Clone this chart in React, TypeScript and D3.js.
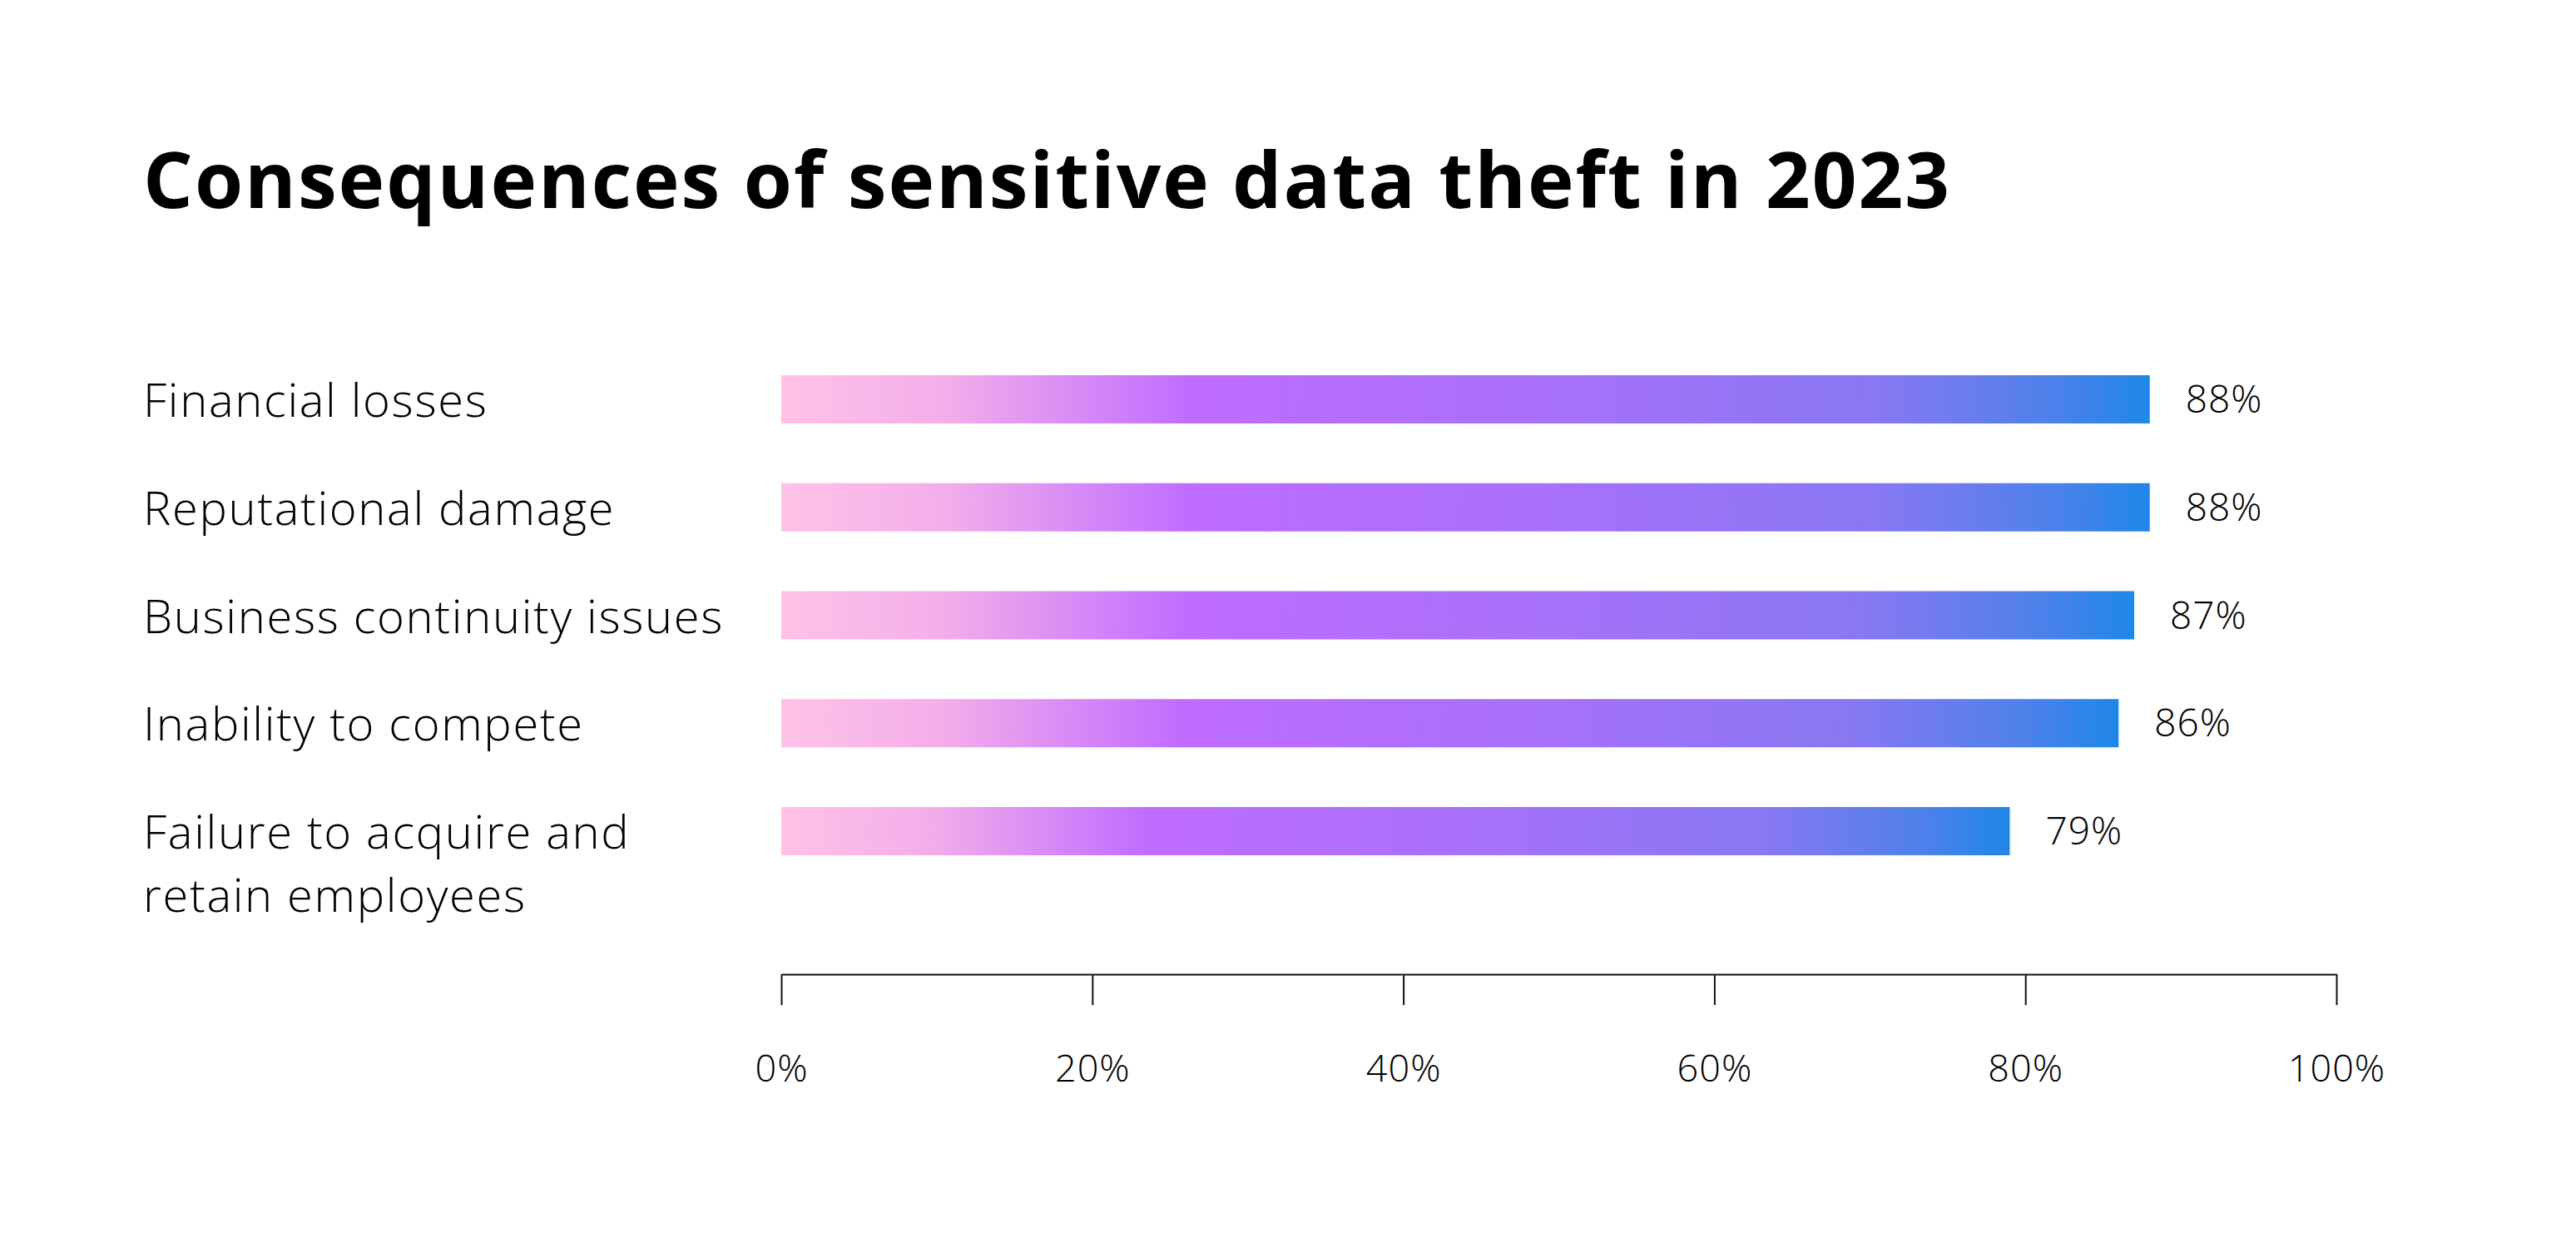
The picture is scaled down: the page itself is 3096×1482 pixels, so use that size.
import React, { useRef, useEffect } from "react";
import * as d3 from "d3";

const title = "Consequences of sensitive data theft in 2023";

const categories = [
  "Financial losses",
  "Reputational damage",
  "Business continuity issues",
  "Inability to compete",
  "Failure to acquire and retain employees",
];

// how each category label wraps on the left
const categoryLines = [
  ["Financial losses"],
  ["Reputational damage"],
  ["Business continuity issues"],
  ["Inability to compete"],
  ["Failure to acquire and", "retain employees"],
];

const values = [88, 88, 87, 86, 79];

const tickValues = [0, 20, 40, 60, 80, 100];

const App = () => {
  const svgRef = useRef<SVGSVGElement>(null);
  const width = 3096;
  const height = 1482;
  const labelX = 172;
  const barHeight = 58;
  const axisY = 1171;
  const font = "'Open Sans', Lato, sans-serif";

  useEffect(() => {
    const svg = d3.select(svgRef.current);
    svg.selectAll("*").remove();

    const x = d3.scaleLinear().domain([0, 100]).range([939, 2808]);
    const y = d3.scalePoint<string>().domain(categories).range([480, 999]);

    const defs = svg.append("defs");
    const grad = defs
      .append("linearGradient")
      .attr("id", "barFill")
      .attr("x1", "0")
      .attr("x2", "1")
      .attr("y1", "0")
      .attr("y2", "0");
    [
      [0, "#ffc2e6"],
      [0.12, "#f2aeea"],
      [0.3, "#bf6cff"],
      [0.55, "#a970f9"],
      [0.8, "#8878f2"],
      [0.93, "#4d81ea"],
      [1, "#1e87e8"],
    ].forEach(([o, c]) => {
      grad.append("stop").attr("offset", o as number).attr("stop-color", c as string);
    });

    svg
      .append("text")
      .attr("x", labelX)
      .attr("y", 250)
      .attr("font-family", font)
      .attr("font-weight", 700)
      .attr("font-size", 94)
      .attr("letter-spacing", 2)
      .attr("fill", "#000")
      .style("font-variant-ligatures", "none")
      .text(title);

    const rows = svg
      .append("g")
      .selectAll("g")
      .data(categories)
      .enter()
      .append("g");

    rows
      .append("rect")
      .attr("x", x(0))
      .attr("y", (d) => (y(d) as number) - barHeight / 2)
      .attr("width", (d, i) => x(values[i]) - x(0))
      .attr("height", barHeight)
      .attr("fill", "url(#barFill)");

    rows
      .append("text")
      .attr("x", (d, i) => x(values[i]) + 43)
      .attr("y", (d) => (y(d) as number) + 16)
      .attr("font-family", font)
      .attr("font-weight", 300)
      .attr("font-size", 46)
      .attr("letter-spacing", 1)
      .attr("fill", "#000")
      .text((d, i) => values[i] + "%");

    rows.each(function (d, i) {
      const t = d3
        .select(this)
        .append("text")
        .attr("x", labelX)
        .attr("y", (y(d) as number) + 21)
        .attr("font-family", font)
        .attr("font-weight", 300)
        .attr("font-size", 56)
        .attr("letter-spacing", 1.7)
        .attr("fill", "#000");
      categoryLines[i].forEach((line, j) => {
        t.append("tspan")
          .attr("x", labelX)
          .attr("dy", j === 0 ? 0 : 76)
          .text(line);
      });
    });

    const axis = d3
      .axisBottom(x)
      .tickValues(tickValues)
      .tickSize(37)
      .tickSizeOuter(0)
      .tickPadding(60)
      .tickFormat((d) => d + "%");

    const g = svg
      .append("g")
      .attr("transform", `translate(0,${axisY})`)
      .call(axis);
    g.select(".domain").attr("stroke", "#111").attr("stroke-width", 2);
    g.selectAll(".tick line").attr("stroke", "#111").attr("stroke-width", 2);
    g.selectAll(".tick text")
      .attr("font-family", font)
      .attr("font-weight", 300)
      .attr("font-size", 45)
      .attr("letter-spacing", 1)
      .attr("fill", "#000");

    return () => {
      svg.selectAll("*").remove();
    };
  }, []);

  return (
    <svg
      ref={svgRef}
      width={width}
      height={height}
      style={{ position: "absolute", left: 0, top: 0, background: "#fff" }}
    />
  );
};

export default App;
